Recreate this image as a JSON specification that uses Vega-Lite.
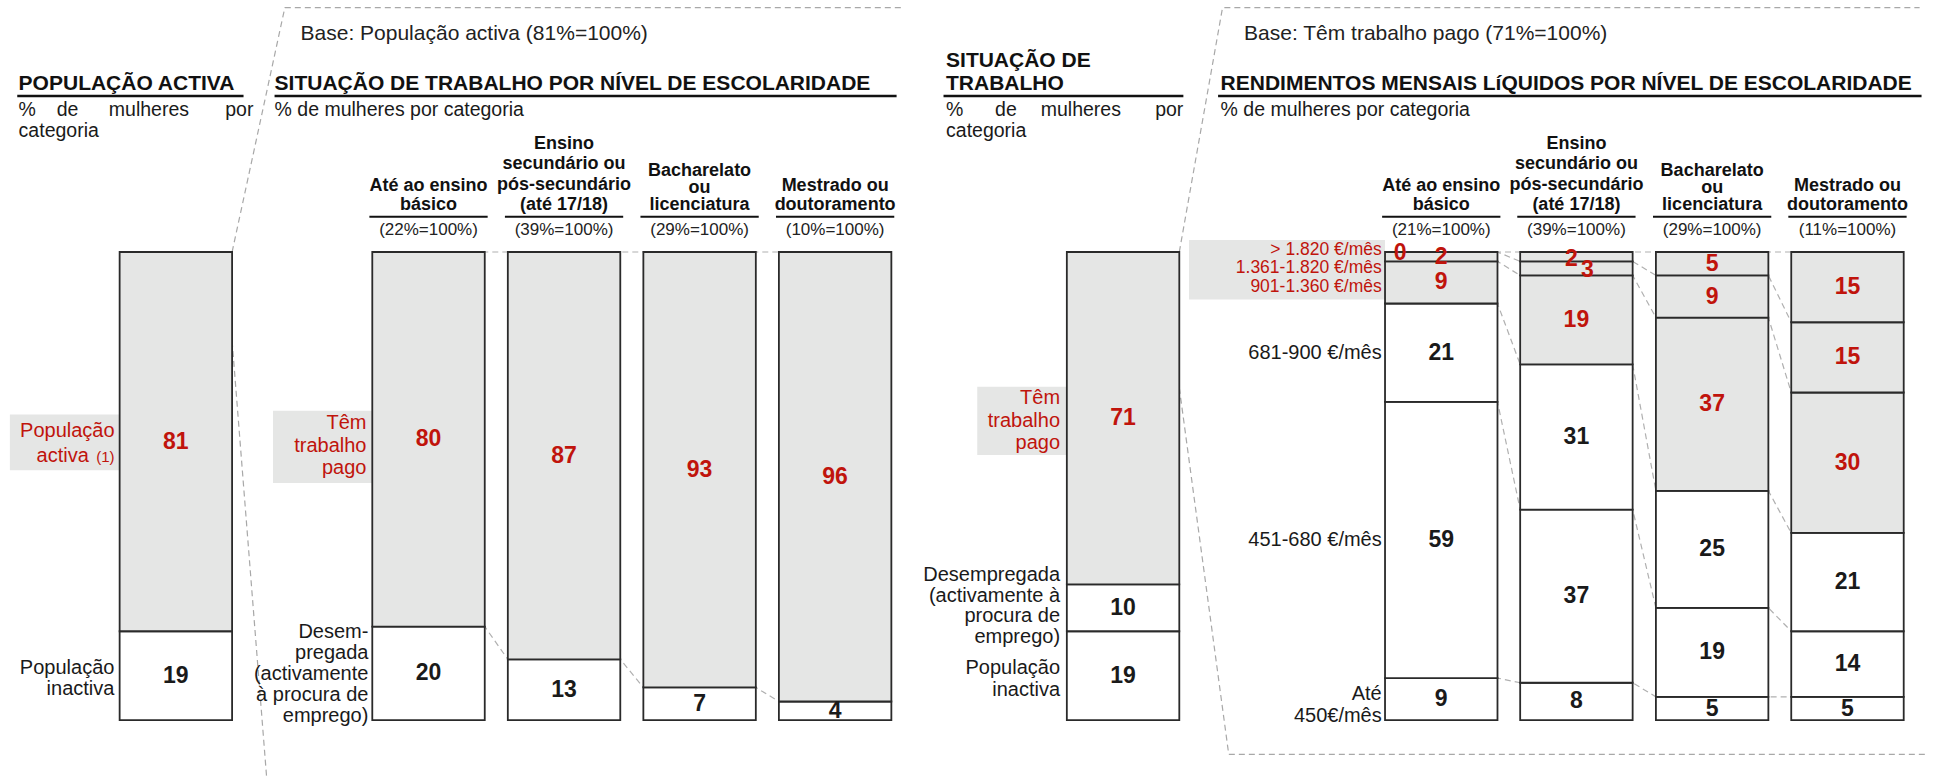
{
"$schema": "https://vega.github.io/schema/vega-lite/v6.json",
"width": 1939, "height": 780, "padding": 0,
"autosize": {"type": "fit", "contains": "padding"},
"background": "white",
"config": {"view": {"stroke": null}},
"datasets": {
"seg": [
{"bar":"a","col":9.07,"cat":"inact1","v":19,"ord":1,"tone":"w"},
{"bar":"a","col":9.07,"cat":"act1","v":81,"ord":2,"tone":"g"},
{"bar":"b1","col":22.10,"cat":"des2","v":20,"ord":1,"tone":"w"},
{"bar":"b1","col":22.10,"cat":"trab2","v":80,"ord":2,"tone":"g"},
{"bar":"b2","col":29.09,"cat":"des2","v":13,"ord":1,"tone":"w"},
{"bar":"b2","col":29.09,"cat":"trab2","v":87,"ord":2,"tone":"g"},
{"bar":"b3","col":36.08,"cat":"des2","v":7,"ord":1,"tone":"w"},
{"bar":"b3","col":36.08,"cat":"trab2","v":93,"ord":2,"tone":"g"},
{"bar":"b4","col":43.07,"cat":"des2","v":4,"ord":1,"tone":"w"},
{"bar":"b4","col":43.07,"cat":"trab2","v":96,"ord":2,"tone":"g"},
{"bar":"c","col":57.92,"cat":"inact3","v":19,"ord":1,"tone":"w"},
{"bar":"c","col":57.92,"cat":"des3","v":10,"ord":2,"tone":"w"},
{"bar":"c","col":57.92,"cat":"trab3","v":71,"ord":3,"tone":"g"},
{"bar":"r1","col":74.33,"cat":"le450","v":9,"ord":1,"tone":"w"},
{"bar":"r1","col":74.33,"cat":"451","v":59,"ord":2,"tone":"w"},
{"bar":"r1","col":74.33,"cat":"681","v":21,"ord":3,"tone":"w"},
{"bar":"r1","col":74.33,"cat":"901","v":9,"ord":4,"tone":"g"},
{"bar":"r1","col":74.33,"cat":"1361","v":2,"ord":5,"tone":"g"},
{"bar":"r1","col":74.33,"cat":"gt1820","v":0,"ord":6,"tone":"g"},
{"bar":"r2","col":81.30,"cat":"le450","v":8,"ord":1,"tone":"w"},
{"bar":"r2","col":81.30,"cat":"451","v":37,"ord":2,"tone":"w"},
{"bar":"r2","col":81.30,"cat":"681","v":31,"ord":3,"tone":"w"},
{"bar":"r2","col":81.30,"cat":"901","v":19,"ord":4,"tone":"g"},
{"bar":"r2","col":81.30,"cat":"1361","v":3,"ord":5,"tone":"g"},
{"bar":"r2","col":81.30,"cat":"gt1820","v":2,"ord":6,"tone":"g"},
{"bar":"r3","col":88.30,"cat":"le450","v":5,"ord":1,"tone":"w"},
{"bar":"r3","col":88.30,"cat":"451","v":19,"ord":2,"tone":"w"},
{"bar":"r3","col":88.30,"cat":"681","v":25,"ord":3,"tone":"w"},
{"bar":"r3","col":88.30,"cat":"901","v":37,"ord":4,"tone":"g"},
{"bar":"r3","col":88.30,"cat":"1361","v":9,"ord":5,"tone":"g"},
{"bar":"r3","col":88.30,"cat":"gt1820","v":5,"ord":6,"tone":"g"},
{"bar":"r4","col":95.28,"cat":"le450","v":5,"ord":1,"tone":"w"},
{"bar":"r4","col":95.28,"cat":"451","v":14,"ord":2,"tone":"w"},
{"bar":"r4","col":95.28,"cat":"681","v":21,"ord":3,"tone":"w"},
{"bar":"r4","col":95.28,"cat":"901","v":30,"ord":4,"tone":"g"},
{"bar":"r4","col":95.28,"cat":"1361","v":15,"ord":5,"tone":"g"},
{"bar":"r4","col":95.28,"cat":"gt1820","v":15,"ord":6,"tone":"g"}
],
"frame": [
{"path":"f1","i":1,"x":11.97,"y":100},
{"path":"f1","i":2,"x":14.69,"y":152.2},
{"path":"f1","i":3,"x":46.6,"y":152.2},
{"path":"f2","i":1,"x":11.97,"y":81},
{"path":"f2","i":2,"x":13.75,"y":-12.13},
{"path":"f3","i":1,"x":60.82,"y":100},
{"path":"f3","i":2,"x":63.05,"y":152.2},
{"path":"f3","i":3,"x":99.0,"y":152.2},
{"path":"f4","i":1,"x":60.82,"y":71},
{"path":"f4","i":2,"x":63.37,"y":-7.3},
{"path":"f4","i":3,"x":99.3,"y":-7.3}
],
"boxes": [
{"x":0.51,"x2":6.17,"y":53.4,"y2":65.3},
{"x":14.08,"x2":19.2,"y":50.64,"y2":66.1},
{"x":50.4,"x2":55.02,"y":56.67,"y2":71.2},
{"x":61.32,"x2":71.43,"y":89.85,"y2":102.55}
],
"ul": [
{"x":0.89,"x2":12.56,"y":133.35},
{"x":14.16,"x2":46.24,"y":133.35},
{"x":48.66,"x2":61.03,"y":133.35},
{"x":62.82,"x2":99.1,"y":133.35}
],
"cols": [{"col":22.10},{"col":29.09},{"col":36.08},{"col":43.07},{"col":74.33},{"col":81.30},{"col":88.30},{"col":95.28}],
"txt": [
{"k":"ttl","t":"POPULAÇÃO ACTIVA","x":0.96,"y":135.8},
{"k":"ttl","t":"SITUAÇÃO DE TRABALHO POR NÍVEL DE ESCOLARIDADE","x":14.16,"y":135.8},
{"k":"ttl","t":"SITUAÇÃO DE","x":48.79,"y":140.7},
{"k":"ttl","t":"TRABALHO","x":48.79,"y":135.8},
{"k":"ttl","t":"RENDIMENTOS MENSAIS LíQUIDOS POR NÍVEL DE ESCOLARIDADE","x":62.95,"y":135.8},
{"k":"sub","t":"% de mulheres por categoria","x":14.16,"y":130.3},
{"k":"sub","t":"% de mulheres por categoria","x":62.95,"y":130.3},
{"k":"sub","t":"%","x":0.96,"y":130.3},
{"k":"sub","t":"%","x":48.79,"y":130.3},
{"k":"sub","t":"categoria","x":0.96,"y":125.9},
{"k":"sub","t":"categoria","x":48.79,"y":125.9},
{"k":"subc","t":"de","x":3.48,"y":130.3},
{"k":"subc","t":"mulheres","x":7.68,"y":130.3},
{"k":"subc","t":"de","x":51.88,"y":130.3},
{"k":"subc","t":"mulheres","x":55.74,"y":130.3},
{"k":"subr","t":"por","x":13.07,"y":130.3},
{"k":"subr","t":"por","x":61.03,"y":130.3},
{"k":"base","t":"Base: População activa (81%=100%)","x":15.5,"y":146.6},
{"k":"base","t":"Base: Têm trabalho pago (71%=100%)","x":64.16,"y":146.6},
{"k":"hd","t":"Até ao ensino","x":22.10,"y":114.1},
{"k":"hd","t":"básico","x":22.10,"y":110.0},
{"k":"hd","t":"Ensino","x":29.09,"y":123.1},
{"k":"hd","t":"secundário ou","x":29.09,"y":118.8},
{"k":"hd","t":"pós-secundário","x":29.09,"y":114.4},
{"k":"hd","t":"(até 17/18)","x":29.09,"y":110.0},
{"k":"hd","t":"Bacharelato","x":36.08,"y":117.2},
{"k":"hd","t":"ou","x":36.08,"y":113.6},
{"k":"hd","t":"licenciatura","x":36.08,"y":110.0},
{"k":"hd","t":"Mestrado ou","x":43.07,"y":114.1},
{"k":"hd","t":"doutoramento","x":43.07,"y":110.0},
{"k":"hd","t":"Até ao ensino","x":74.33,"y":114.1},
{"k":"hd","t":"básico","x":74.33,"y":110.0},
{"k":"hd","t":"Ensino","x":81.30,"y":123.1},
{"k":"hd","t":"secundário ou","x":81.30,"y":118.8},
{"k":"hd","t":"pós-secundário","x":81.30,"y":114.4},
{"k":"hd","t":"(até 17/18)","x":81.30,"y":110.0},
{"k":"hd","t":"Bacharelato","x":88.30,"y":117.2},
{"k":"hd","t":"ou","x":88.30,"y":113.6},
{"k":"hd","t":"licenciatura","x":88.30,"y":110.0},
{"k":"hd","t":"Mestrado ou","x":95.28,"y":114.1},
{"k":"hd","t":"doutoramento","x":95.28,"y":110.0},
{"k":"pc","t":"(22%=100%)","x":22.10,"y":104.6},
{"k":"pc","t":"(39%=100%)","x":29.09,"y":104.6},
{"k":"pc","t":"(29%=100%)","x":36.08,"y":104.6},
{"k":"pc","t":"(10%=100%)","x":43.07,"y":104.6},
{"k":"pc","t":"(21%=100%)","x":74.33,"y":104.6},
{"k":"pc","t":"(39%=100%)","x":81.30,"y":104.6},
{"k":"pc","t":"(29%=100%)","x":88.30,"y":104.6},
{"k":"pc","t":"(11%=100%)","x":95.28,"y":104.6},
{"k":"rl","t":"População","x":5.91,"y":61.7},
{"k":"rl","t":"activa","x":4.58,"y":56.5},
{"k":"rls","t":"(1)","x":5.91,"y":56.3},
{"k":"rl","t":"Têm","x":18.9,"y":63.4},
{"k":"rl","t":"trabalho","x":18.9,"y":58.66},
{"k":"rl","t":"pago","x":18.9,"y":53.83},
{"k":"rl","t":"Têm","x":54.67,"y":68.72},
{"k":"rl","t":"trabalho","x":54.67,"y":63.97},
{"k":"rl","t":"pago","x":54.67,"y":59.15},
{"k":"rl4","t":"> 1.820 €/mês","x":71.26,"y":100.45},
{"k":"rl4","t":"1.361-1.820 €/mês","x":71.26,"y":96.5},
{"k":"rl4","t":"901-1.360 €/mês","x":71.26,"y":92.55},
{"k":"bl","t":"População","x":5.9,"y":11.2},
{"k":"bl","t":"inactiva","x":5.9,"y":6.6},
{"k":"bl","t":"Desem-","x":19.0,"y":18.85},
{"k":"bl","t":"pregada","x":19.0,"y":14.38},
{"k":"bl","t":"(activamente","x":19.0,"y":9.91},
{"k":"bl","t":"à procura de","x":19.0,"y":5.45},
{"k":"bl","t":"emprego)","x":19.0,"y":1.0},
{"k":"bl","t":"Desempregada","x":54.67,"y":31.0},
{"k":"bl","t":"(activamente à","x":54.67,"y":26.6},
{"k":"bl","t":"procura de","x":54.67,"y":22.2},
{"k":"bl","t":"emprego)","x":54.67,"y":17.8},
{"k":"bl","t":"População","x":54.67,"y":11.1},
{"k":"bl","t":"inactiva","x":54.67,"y":6.5},
{"k":"bl","t":"681-900 €/mês","x":71.26,"y":78.4},
{"k":"bl","t":"451-680 €/mês","x":71.26,"y":38.4},
{"k":"bl","t":"Até","x":71.26,"y":5.7},
{"k":"bl","t":"450€/mês","x":71.26,"y":1.0}
]
},
"layer": [
{"data":{"name":"boxes"},"mark":{"type":"rect","fill":"#e5e6e5"},
 "encoding":{"x":{"field":"x","type":"quantitative","scale":{"domain":[0,100],"nice":false,"zero":false},"axis":null},"x2":{"field":"x2"},
 "y":{"field":"y","type":"quantitative","scale":{"domain":[-12.13,153.83],"nice":false,"zero":false},"axis":null},"y2":{"field":"y2"}}},
{"data":{"name":"frame"},"mark":{"type":"line","stroke":"#a8a8a8","strokeWidth":1.2,"strokeDash":[6,4]},
 "encoding":{"x":{"field":"x","type":"quantitative","scale":{"domain":[0,100],"nice":false,"zero":false},"axis":null},
 "y":{"field":"y","type":"quantitative","scale":{"domain":[-12.13,153.83],"nice":false,"zero":false},"axis":null},
 "detail":{"field":"path"},"order":{"field":"i"}}},
{"data":{"name":"seg"},
 "transform":[{"stack":"v","groupby":["bar"],"sort":[{"field":"ord"}],"as":["y0","y1"]},
  {"calculate":"datum.col - 2.9","as":"xa"},{"calculate":"datum.col + 2.9","as":"xb"},
  {"fold":["xa","xb"],"as":["side","xp"]}],
 "mark":{"type":"line","stroke":"#b0b0b0","strokeWidth":1.2,"strokeDash":[6,4]},
 "encoding":{"x":{"field":"xp","type":"quantitative","scale":{"domain":[0,100],"nice":false,"zero":false},"axis":null},
 "y":{"field":"y1","type":"quantitative","scale":{"domain":[-12.13,153.83],"nice":false,"zero":false},"axis":null},
 "detail":{"field":"cat"},"order":{"field":"xp"}}},
{"data":{"name":"seg"},
 "transform":[{"stack":"v","groupby":["bar"],"sort":[{"field":"ord"}],"as":["y0","y1"]},
  {"calculate":"datum.col - 2.9","as":"xa"},{"calculate":"datum.col + 2.9","as":"xb"}],
 "mark":{"type":"rect","stroke":"#2a2a2a","strokeWidth":1.8},
 "encoding":{"x":{"field":"xa","type":"quantitative","scale":{"domain":[0,100],"nice":false,"zero":false},"axis":null},"x2":{"field":"xb"},
 "y":{"field":"y0","type":"quantitative","scale":{"domain":[-12.13,153.83],"nice":false,"zero":false},"axis":null},"y2":{"field":"y1"},
 "fill":{"condition":{"test":"datum.tone === 'g'","value":"#e5e6e5"},"value":"#ffffff"}}},
{"data":{"name":"seg"},
 "transform":[{"stack":"v","groupby":["bar"],"sort":[{"field":"ord"}],"as":["y0","y1"]},
  {"calculate":"(datum.y0 + datum.y1) / 2","as":"ym"},
  {"filter":"!(datum.bar === 'r1' && datum.cat === 'gt1820') && !(datum.bar === 'r2' && (datum.cat === 'gt1820' || datum.cat === '1361'))"}],
 "mark":{"type":"text","font":"Liberation Sans","fontSize":23,"fontWeight":"bold","baseline":"middle","align":"center"},
 "encoding":{"x":{"field":"col","type":"quantitative","scale":{"domain":[0,100],"nice":false,"zero":false},"axis":null},
 "y":{"field":"ym","type":"quantitative","scale":{"domain":[-12.13,153.83],"nice":false,"zero":false},"axis":null},
 "text":{"field":"v"},
 "color":{"condition":{"test":"datum.tone === 'g'","value":"#c0140c"},"value":"#1a1a1a"}}},
{"data":{"name":"seg"},
 "transform":[{"stack":"v","groupby":["bar"],"sort":[{"field":"ord"}],"as":["y0","y1"]},
  {"calculate":"(datum.y0 + datum.y1) / 2","as":"ym"},
  {"filter":"datum.bar === 'r1' && datum.cat === 'gt1820'"}],
 "mark":{"type":"text","font":"Liberation Sans","fontSize":23,"fontWeight":"bold","baseline":"middle","align":"center","dx":-41,"dy":1,"color":"#c0140c"},
 "encoding":{"x":{"field":"col","type":"quantitative","scale":{"domain":[0,100],"nice":false,"zero":false},"axis":null},
 "y":{"field":"ym","type":"quantitative","scale":{"domain":[-12.13,153.83],"nice":false,"zero":false},"axis":null},
 "text":{"field":"v"}}},
{"data":{"name":"seg"},
 "transform":[{"stack":"v","groupby":["bar"],"sort":[{"field":"ord"}],"as":["y0","y1"]},
  {"calculate":"(datum.y0 + datum.y1) / 2","as":"ym"},
  {"filter":"datum.bar === 'r2' && datum.cat === 'gt1820'"}],
 "mark":{"type":"text","font":"Liberation Sans","fontSize":23,"fontWeight":"bold","baseline":"middle","align":"center","dx":-5,"dy":2,"color":"#c0140c"},
 "encoding":{"x":{"field":"col","type":"quantitative","scale":{"domain":[0,100],"nice":false,"zero":false},"axis":null},
 "y":{"field":"ym","type":"quantitative","scale":{"domain":[-12.13,153.83],"nice":false,"zero":false},"axis":null},
 "text":{"field":"v"}}},
{"data":{"name":"seg"},
 "transform":[{"stack":"v","groupby":["bar"],"sort":[{"field":"ord"}],"as":["y0","y1"]},
  {"calculate":"(datum.y0 + datum.y1) / 2","as":"ym"},
  {"filter":"datum.bar === 'r2' && datum.cat === '1361'"}],
 "mark":{"type":"text","font":"Liberation Sans","fontSize":23,"fontWeight":"bold","baseline":"middle","align":"center","dx":11,"dy":2,"color":"#c0140c"},
 "encoding":{"x":{"field":"col","type":"quantitative","scale":{"domain":[0,100],"nice":false,"zero":false},"axis":null},
 "y":{"field":"ym","type":"quantitative","scale":{"domain":[-12.13,153.83],"nice":false,"zero":false},"axis":null},
 "text":{"field":"v"}}},
{"data":{"name":"ul"},"mark":{"type":"rule","stroke":"#111111","strokeWidth":2.5},
 "encoding":{"x":{"field":"x","type":"quantitative","scale":{"domain":[0,100],"nice":false,"zero":false},"axis":null},"x2":{"field":"x2"},
 "y":{"field":"y","type":"quantitative","scale":{"domain":[-12.13,153.83],"nice":false,"zero":false},"axis":null}}},
{"data":{"name":"cols"},
 "transform":[{"calculate":"datum.col - 3.05","as":"ua"},{"calculate":"datum.col + 3.05","as":"ub"}],
 "mark":{"type":"rule","stroke":"#111111","strokeWidth":2},
 "encoding":{"x":{"field":"ua","type":"quantitative","scale":{"domain":[0,100],"nice":false,"zero":false},"axis":null},"x2":{"field":"ub"},
 "y":{"datum":107.55,"type":"quantitative","scale":{"domain":[-12.13,153.83],"nice":false,"zero":false},"axis":null}}},
{"data":{"name":"txt"},"transform":[{"filter":"datum.k === 'ttl'"}],
 "mark":{"type":"text","font":"Liberation Sans","fontSize":21,"fontWeight":"bold","align":"left","baseline":"middle","color":"#111111"},
 "encoding":{"x":{"field":"x","type":"quantitative","scale":{"domain":[0,100],"nice":false,"zero":false},"axis":null},
 "y":{"field":"y","type":"quantitative","scale":{"domain":[-12.13,153.83],"nice":false,"zero":false},"axis":null},"text":{"field":"t"}}},
{"data":{"name":"txt"},"transform":[{"filter":"datum.k === 'sub'"}],
 "mark":{"type":"text","font":"Liberation Sans","fontSize":19.5,"align":"left","baseline":"middle","color":"#1a1a1a"},
 "encoding":{"x":{"field":"x","type":"quantitative","scale":{"domain":[0,100],"nice":false,"zero":false},"axis":null},
 "y":{"field":"y","type":"quantitative","scale":{"domain":[-12.13,153.83],"nice":false,"zero":false},"axis":null},"text":{"field":"t"}}},
{"data":{"name":"txt"},"transform":[{"filter":"datum.k === 'subc'"}],
 "mark":{"type":"text","font":"Liberation Sans","fontSize":19.5,"align":"center","baseline":"middle","color":"#1a1a1a"},
 "encoding":{"x":{"field":"x","type":"quantitative","scale":{"domain":[0,100],"nice":false,"zero":false},"axis":null},
 "y":{"field":"y","type":"quantitative","scale":{"domain":[-12.13,153.83],"nice":false,"zero":false},"axis":null},"text":{"field":"t"}}},
{"data":{"name":"txt"},"transform":[{"filter":"datum.k === 'subr'"}],
 "mark":{"type":"text","font":"Liberation Sans","fontSize":19.5,"align":"right","baseline":"middle","color":"#1a1a1a"},
 "encoding":{"x":{"field":"x","type":"quantitative","scale":{"domain":[0,100],"nice":false,"zero":false},"axis":null},
 "y":{"field":"y","type":"quantitative","scale":{"domain":[-12.13,153.83],"nice":false,"zero":false},"axis":null},"text":{"field":"t"}}},
{"data":{"name":"txt"},"transform":[{"filter":"datum.k === 'base'"}],
 "mark":{"type":"text","font":"Liberation Sans","fontSize":21,"align":"left","baseline":"middle","color":"#222222"},
 "encoding":{"x":{"field":"x","type":"quantitative","scale":{"domain":[0,100],"nice":false,"zero":false},"axis":null},
 "y":{"field":"y","type":"quantitative","scale":{"domain":[-12.13,153.83],"nice":false,"zero":false},"axis":null},"text":{"field":"t"}}},
{"data":{"name":"txt"},"transform":[{"filter":"datum.k === 'hd'"}],
 "mark":{"type":"text","font":"Liberation Sans","fontSize":18,"fontWeight":"bold","align":"center","baseline":"middle","color":"#111111"},
 "encoding":{"x":{"field":"x","type":"quantitative","scale":{"domain":[0,100],"nice":false,"zero":false},"axis":null},
 "y":{"field":"y","type":"quantitative","scale":{"domain":[-12.13,153.83],"nice":false,"zero":false},"axis":null},"text":{"field":"t"}}},
{"data":{"name":"txt"},"transform":[{"filter":"datum.k === 'pc'"}],
 "mark":{"type":"text","font":"Liberation Sans","fontSize":17,"align":"center","baseline":"middle","color":"#222222"},
 "encoding":{"x":{"field":"x","type":"quantitative","scale":{"domain":[0,100],"nice":false,"zero":false},"axis":null},
 "y":{"field":"y","type":"quantitative","scale":{"domain":[-12.13,153.83],"nice":false,"zero":false},"axis":null},"text":{"field":"t"}}},
{"data":{"name":"txt"},"transform":[{"filter":"datum.k === 'rl'"}],
 "mark":{"type":"text","font":"Liberation Sans","fontSize":20,"align":"right","baseline":"middle","color":"#c0140c"},
 "encoding":{"x":{"field":"x","type":"quantitative","scale":{"domain":[0,100],"nice":false,"zero":false},"axis":null},
 "y":{"field":"y","type":"quantitative","scale":{"domain":[-12.13,153.83],"nice":false,"zero":false},"axis":null},"text":{"field":"t"}}},
{"data":{"name":"txt"},"transform":[{"filter":"datum.k === 'rls'"}],
 "mark":{"type":"text","font":"Liberation Sans","fontSize":15,"align":"right","baseline":"middle","color":"#c0140c"},
 "encoding":{"x":{"field":"x","type":"quantitative","scale":{"domain":[0,100],"nice":false,"zero":false},"axis":null},
 "y":{"field":"y","type":"quantitative","scale":{"domain":[-12.13,153.83],"nice":false,"zero":false},"axis":null},"text":{"field":"t"}}},
{"data":{"name":"txt"},"transform":[{"filter":"datum.k === 'rl4'"}],
 "mark":{"type":"text","font":"Liberation Sans","fontSize":17.5,"align":"right","baseline":"middle","color":"#c0140c"},
 "encoding":{"x":{"field":"x","type":"quantitative","scale":{"domain":[0,100],"nice":false,"zero":false},"axis":null},
 "y":{"field":"y","type":"quantitative","scale":{"domain":[-12.13,153.83],"nice":false,"zero":false},"axis":null},"text":{"field":"t"}}},
{"data":{"name":"txt"},"transform":[{"filter":"datum.k === 'bl'"}],
 "mark":{"type":"text","font":"Liberation Sans","fontSize":20,"align":"right","baseline":"middle","color":"#1a1a1a"},
 "encoding":{"x":{"field":"x","type":"quantitative","scale":{"domain":[0,100],"nice":false,"zero":false},"axis":null},
 "y":{"field":"y","type":"quantitative","scale":{"domain":[-12.13,153.83],"nice":false,"zero":false},"axis":null},"text":{"field":"t"}}}
]
}
